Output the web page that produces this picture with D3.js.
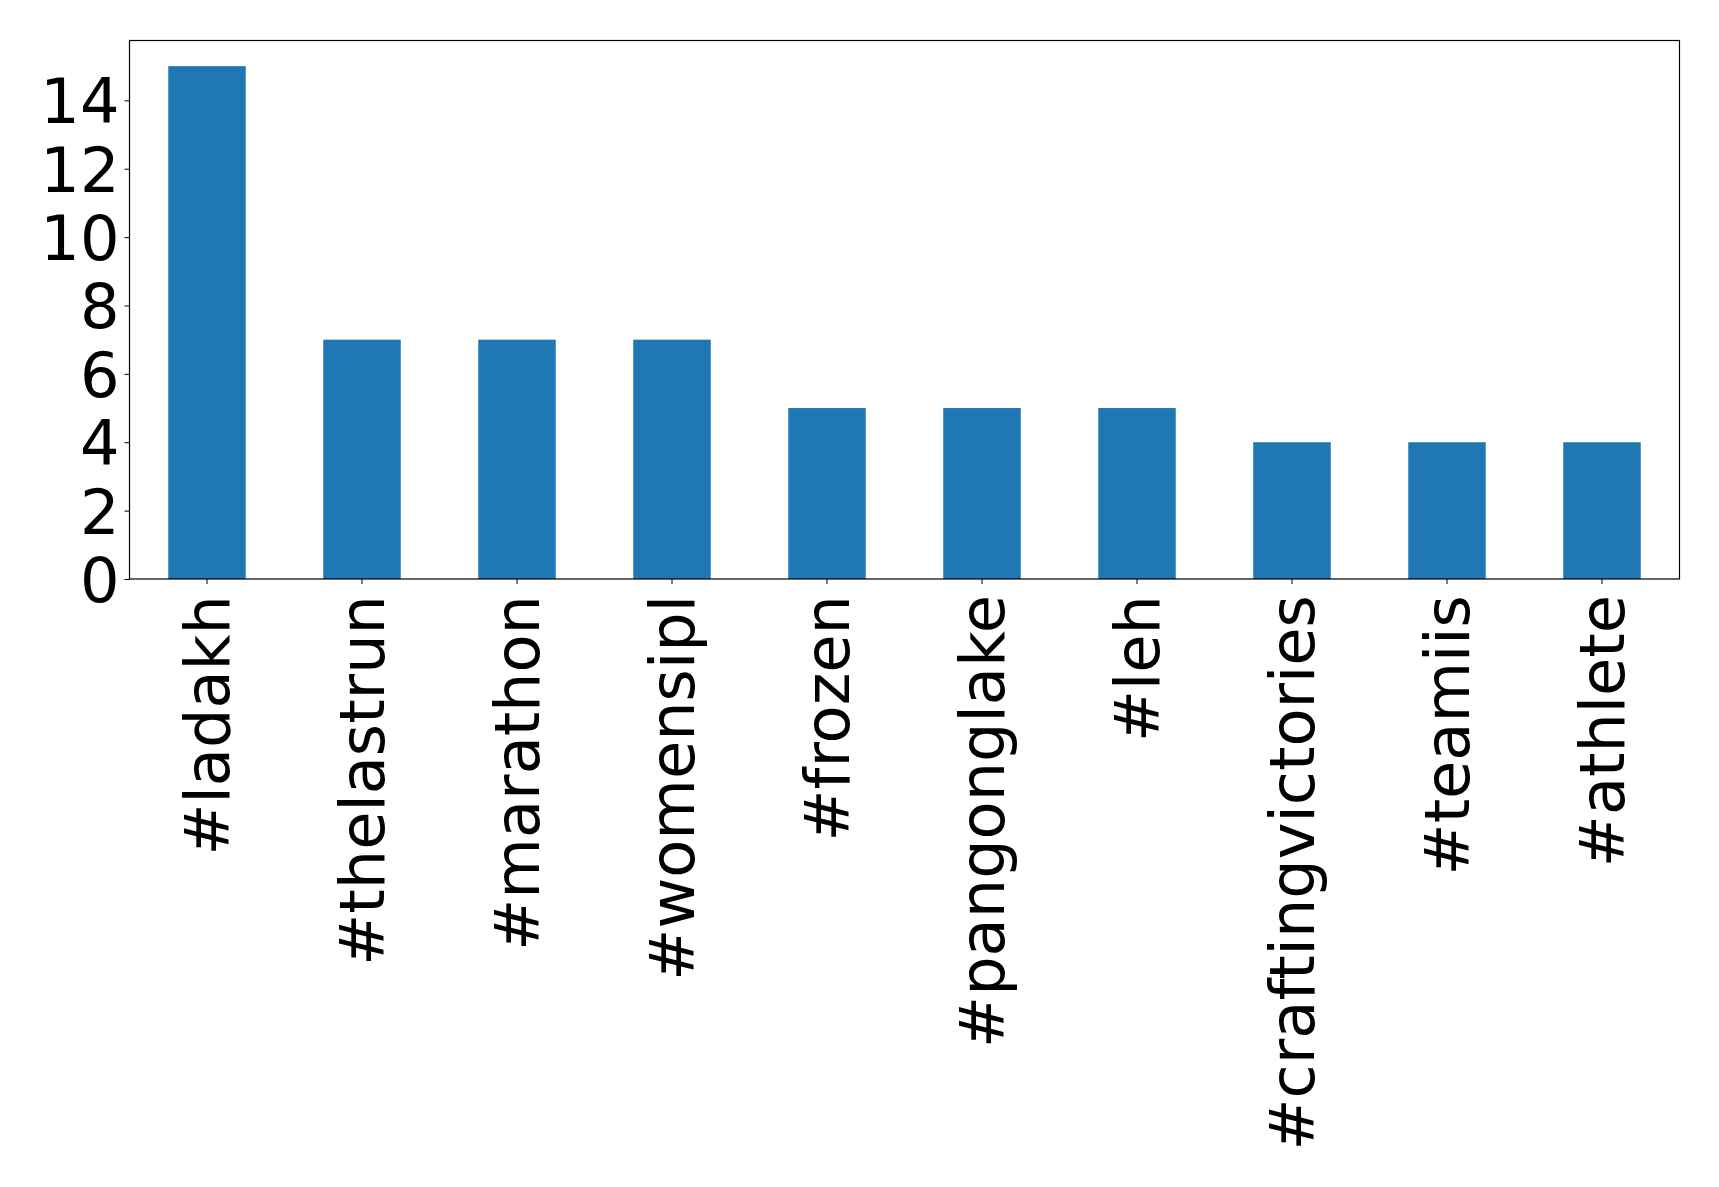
<!DOCTYPE html>
<html>
<head>
<meta charset="utf-8">
<script src="https://cdn.jsdelivr.net/npm/d3@7"></script>
<style>
  html, body { margin: 0; padding: 0; background: #fff; }
  svg { display: block; }
  text { font-family: "DejaVu Sans", sans-serif; fill: #000; }
</style>
</head>
<body>
<svg id="chart" width="1719" height="1187"></svg>
<script>
const categories = ["#ladakh", "#thelastrun", "#marathon", "#womensipl", "#frozen",
  "#pangonglake", "#leh", "#craftingvictories", "#teamiis", "#athlete"];
const counts = [15, 7, 7, 7, 5, 5, 5, 4, 4, 4];
const yTicks = [0, 2, 4, 6, 8, 10, 12, 14];

const W = 1719, H = 1187;
const margin = { left: 129.5, right: W - 1679.5, top: 40.5, bottom: H - 579 };
const fontSize = 62.2;
const tickLen = 5, tickPad = 5;

const svg = d3.select("#chart");
const x = d3.scaleBand()
  .domain(categories)
  .range([margin.left, W - margin.right])
  .paddingInner(0.5)
  .paddingOuter(0.25);
const y = d3.scaleLinear()
  .domain([0, 15.75])
  .range([H - margin.bottom, margin.top]);

// bars
svg.append("g").selectAll("rect")
  .data(categories)
  .join("rect")
  .attr("x", d => x(d))
  .attr("width", x.bandwidth())
  .attr("y", (d, i) => y(counts[i]))
  .attr("height", (d, i) => y(0) - y(counts[i]))
  .attr("fill", "#1f77b4");

// y axis
const yAxis = svg.append("g")
  .attr("transform", `translate(${margin.left},0)`)
  .call(d3.axisLeft(y).tickValues(yTicks).tickFormat(d3.format("d"))
    .tickSize(tickLen).tickPadding(tickPad));
yAxis.select(".domain").remove();
yAxis.selectAll("text").attr("font-size", fontSize).attr("font-family", "DejaVu Sans").attr("dy", "0.36em");
yAxis.selectAll("line").attr("stroke", "#000").attr("stroke-width", 1);

// x axis
const xAxis = svg.append("g")
  .attr("transform", `translate(0,${H - margin.bottom})`)
  .call(d3.axisBottom(x).tickSize(tickLen).tickPadding(tickPad));
xAxis.select(".domain").remove();
xAxis.selectAll("line").attr("stroke", "#000").attr("stroke-width", 1);
xAxis.selectAll("text")
  .attr("font-size", fontSize)
  .attr("font-family", "DejaVu Sans")
  .attr("text-anchor", "end")
  .attr("transform", `translate(0,${tickLen + tickPad + 6}) rotate(-90)`)
  .attr("x", 0)
  .attr("y", 0)
  .attr("dy", "0.35em");

// frame
svg.append("rect")
  .attr("x", margin.left)
  .attr("y", margin.top)
  .attr("width", W - margin.left - margin.right)
  .attr("height", H - margin.top - margin.bottom)
  .attr("fill", "none")
  .attr("stroke", "#000")
  .attr("stroke-width", 1.2);
</script>
</body>
</html>
